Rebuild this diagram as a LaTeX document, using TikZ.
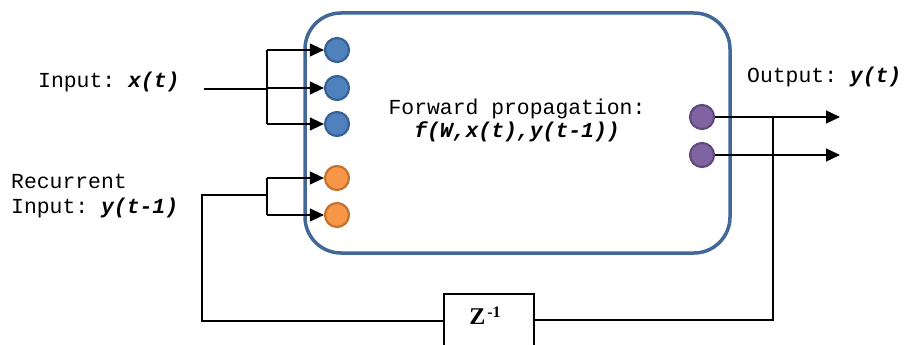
\documentclass[tikz,border=0pt]{standalone}
\usepackage{fontspec}
\setmonofont{Liberation Mono}
\newfontfamily\zfont{Liberation Serif}
\usetikzlibrary{arrows.meta}
\definecolor{boxblue}{RGB}{65,104,150}
\definecolor{bfill}{RGB}{79,129,189}
\definecolor{bline}{RGB}{56,98,150}
\definecolor{ofill}{RGB}{247,150,70}
\definecolor{oline}{RGB}{196,114,48}
\definecolor{pfill}{RGB}{128,100,162}
\definecolor{pline}{RGB}{96,74,125}
\tikzset{
  dot/.style={circle,minimum size=24pt,inner sep=0pt,line width=2.2pt},
  bdot/.style={dot,fill=bfill,draw=bline},
  odot/.style={dot,fill=ofill,draw=oline},
  pdot/.style={dot,fill=pfill,draw=pline},
  wire/.style={line width=1.2pt,black},
  arr/.style={wire,-{Triangle[length=14pt,width=13pt]}},
  lbl/.style={inner sep=0pt,font=\ttfamily\fontsize{21.4}{25}\selectfont},
}
\begin{document}
\begin{tikzpicture}[x=1pt,y=-1pt]
\useasboundingbox (0,0) rectangle (904,345);
\clip (0,0) rectangle (904,345);
% main box
\node[draw=boxblue,line width=3.5pt,rounded corners=36pt,minimum width=425pt,minimum height=240pt,inner sep=0pt] (cell) at (517.5,133) {};
% dots
\node[bdot] (b1) at (337,50) {};
\node[bdot] (b2) at (337,88) {};
\node[bdot] (b3) at (337,124) {};
\node[odot] (o1) at (337,178) {};
\node[odot] (o2) at (337,215) {};
\node[pdot] (p1) at (702,117) {};
\node[pdot] (p2) at (702,155) {};
% texts
\node[lbl,anchor=west] (inlbl) at (38,82) {Input: \textbf{\textit{x(t)}}};
\node[lbl,anchor=west,align=left] (reclbl) at (11,196) {Recurrent\\Input: \textbf{\textit{y(t-1)}}};
\node[lbl,align=center,font=\ttfamily\fontsize{21.4}{23}\selectfont] (fwd) at (517,120) {Forward propagation:\\\textbf{\textit{f(W,x(t),y(t-1))}}};
\node[lbl,anchor=west] (outlbl) at (747,77) {Output: \textbf{\textit{y(t)}}};
% Z box
\node[draw,line width=1.2pt,minimum width=90pt,minimum height=100pt,inner sep=0pt] (zbox) at (489,344) {};
\node[inner sep=0pt,font=\zfont\bfseries\fontsize{24}{26}\selectfont] (ztxt) at (485,316) {Z\hspace{2pt}\raisebox{7pt}{\fontsize{16}{18}\selectfont -1}};
% coordinates
\coordinate (instart) at (204,89);
\coordinate (inj) at (267,89);
\coordinate (rj) at (267,195);
\coordinate (rl) at (202,195);
\coordinate (rb) at (202,321);
\coordinate (oj) at (773,117);
\coordinate (fb) at (773,320);
\coordinate (t1) at (840,117);
\coordinate (t2) at (840,155);
% input wiring
\draw[wire] (instart) -- (inj);
\draw[wire] (inj |- b1) -- (inj |- b3);
\draw[arr] (inj |- b1) -- (b1.west);
\draw[arr] (inj |- b2) -- (b2.west);
\draw[arr] (inj |- b3) -- (b3.west);
% recurrent wiring
\draw[wire] (zbox.west |- rb) -- (rb) -- (rl) -- (rj);
\draw[wire] (rj |- o1) -- (rj |- o2);
\draw[arr] (rj |- o1) -- (o1.west);
\draw[arr] (rj |- o2) -- (o2.west);
% output wiring
\draw[arr] (p1.east) -- (t1);
\draw[arr] (p2.east) -- (t2);
\draw[wire] (oj) -- (fb) -- (zbox.east |- fb);
\end{tikzpicture}
\end{document}
